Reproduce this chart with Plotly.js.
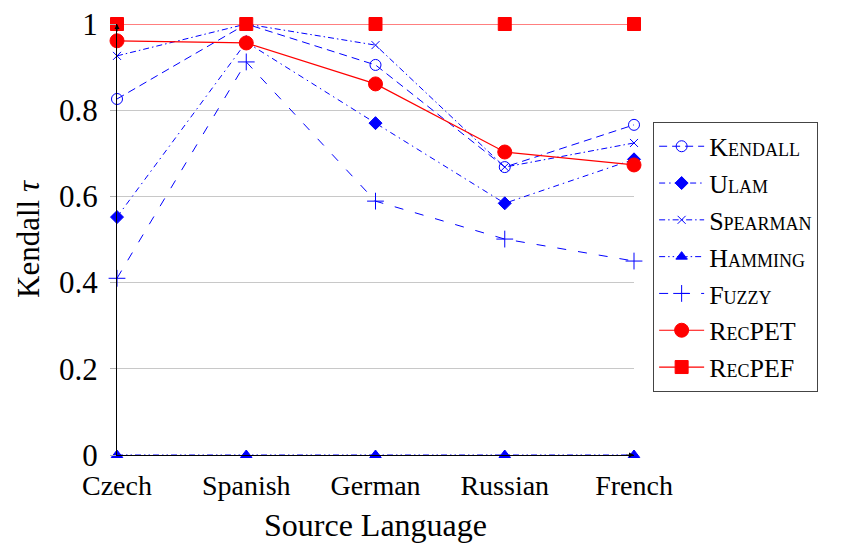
<!DOCTYPE html>
<html><head><meta charset="utf-8">
<script src="https://cdn.plot.ly/plotly-3.0.1.min.js"></script>
<style>body{margin:0;background:#fff}#c{width:858px;height:546px}</style>
</head><body><div id="c"></div>
<script>
const languages = ["Czech", "Spanish", "German", "Russian", "French"];
const kendall  = [0.826, 1.000, 0.905, 0.668, 0.766];
const ulam     = [0.552, 0.958, 0.770, 0.584, 0.686];
const spearman = [0.926, 1.000, 0.951, 0.668, 0.724];
const hamming  = [0, 0, 0, 0, 0];
const fuzzy    = [0.410, 0.912, 0.589, 0.501, 0.450];
const recpet   = [0.961, 0.956, 0.861, 0.703, 0.673];
const recpef   = [1, 1, 1, 1, 1];
const yTicks = [0, 0.2, 0.4, 0.6, 0.8, 1];
const yTickText = ["0", "0.2", "0.4", "0.6", "0.8", "1"];

const blue = "#0000ff", red = "#ff0000";
function tr(name, y, color, dash, symbol, size, width) {
  return {x: languages, y: y, name: name, type: "scatter", mode: "lines+markers",
    cliponaxis: false,
    line: {color: color, width: width, dash: dash},
    marker: {color: color, symbol: symbol, size: size, line: {color: color, width: 1}}};
}
const data = [
  tr("Kendall", kendall, blue, "8px,5px", "circle-open", 11, 1),
  tr("Ulam", ulam, blue, "6px,4px,1.5px,4px", "diamond", 10, 1),
  tr("Spearman", spearman, blue, "6px,3px,1.5px,3px", "x-thin-open", 8, 1),
  tr("Hamming", hamming, blue, "6px,3px,1.5px,3px,1.5px,3px", "triangle-up", 10, 1),
  tr("Fuzzy", fuzzy, blue, "9px,12px", "cross-thin-open", 12, 1),
  tr("RecPET", recpet, red, "solid", "circle", 14, 1.2),
  tr("RecPEF", recpef, red, "solid", "square", 13, 1.2)
];
const fam = "Liberation Serif, Times New Roman, serif";
const f = (s, extra) => Object.assign({family: fam, size: s, color: "#000"}, extra || {});
const layout = {
  width: 858, height: 546,
  margin: {l: 117, r: 224, t: 24, b: 91},
  paper_bgcolor: "#fff", plot_bgcolor: "#fff",
  font: f(27),
  showlegend: true,
  xaxis: {
    type: "category", range: [0, 4], showgrid: false, zeroline: false,
    showline: true, linecolor: "#000", linewidth: 1, ticks: "",
    tickfont: f(28), ticklabelstandoff: 5,
    title: {text: "Source Language", font: f(32), standoff: 14},
    fixedrange: true
  },
  yaxis: {
    range: [0, 1], tickvals: yTicks, ticktext: yTickText,
    showgrid: true, gridcolor: "#c8c8c8", gridwidth: 1, zeroline: false,
    showline: true, linecolor: "#000", linewidth: 1,
    ticks: "outside", ticklen: 6, tickcolor: "#b0b0b0",
    tickfont: f(31), ticklabelstandoff: 6,
    title: {text: "Kendall <i>τ</i>", font: f(31), standoff: 10},
    fixedrange: true
  },
  legend: {
    x: 1.037, xanchor: "left", y: 0.773, yanchor: "top",
    bordercolor: "#444", borderwidth: 1, bgcolor: "#fff",
    font: f(26, {variant: "small-caps"}),
    itemwidth: 45, tracegroupgap: 0
  },
  annotations: [
    {xref: "paper", yref: "paper", x: 1, y: 0, ax: -9, ay: 0, text: "", showarrow: true,
     arrowhead: 2, arrowsize: 1, arrowwidth: 1, arrowcolor: "#000"},
    {xref: "paper", yref: "paper", x: 0, y: 1, ax: 0, ay: 9, text: "", showarrow: true,
     arrowhead: 2, arrowsize: 1, arrowwidth: 1, arrowcolor: "#000"}
  ]
};
Plotly.newPlot("c", data, layout, {displayModeBar: false, staticPlot: true});
</script></body></html>
